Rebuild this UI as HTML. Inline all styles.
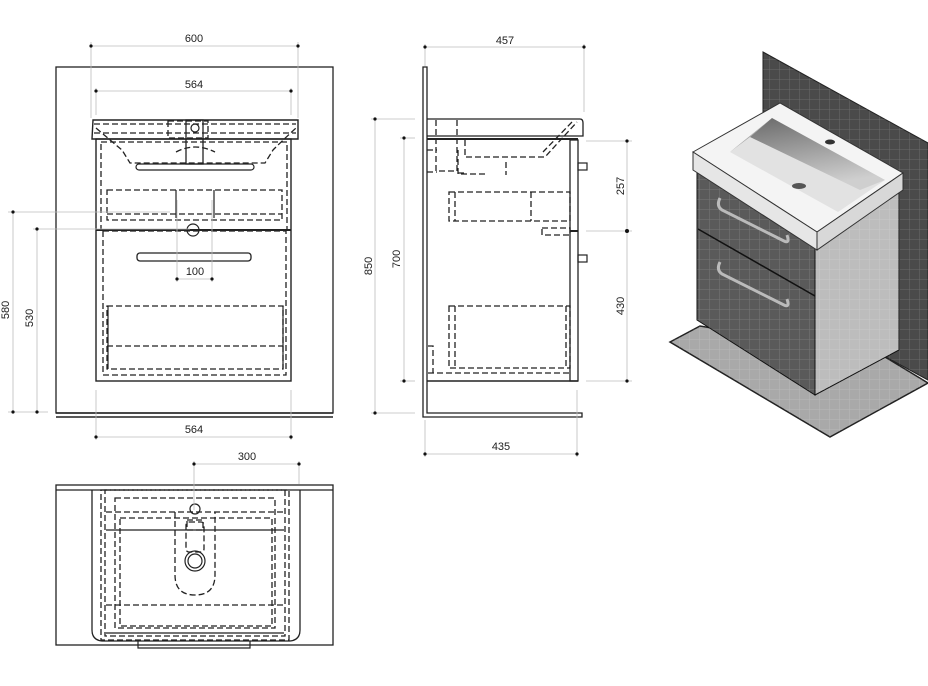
<!DOCTYPE html>
<html><head><meta charset="utf-8"><style>
html,body{margin:0;padding:0;background:#fff;}
svg{display:block;}
text{font-family:"Liberation Sans",sans-serif;font-size:11px;fill:#222;}
</style></head><body>
<svg width="928" height="686" viewBox="0 0 928 686" xmlns="http://www.w3.org/2000/svg">
<defs>
<pattern id="tile" width="10" height="10" patternUnits="userSpaceOnUse"><path d="M10 0V10M0 10H10" stroke="#ffffff" stroke-opacity="0.18" stroke-width="1" fill="none"/></pattern>
<linearGradient id="wallg" x1="0" y1="0" x2="0.3" y2="1"><stop offset="0" stop-color="#6a6a6a"/><stop offset="1" stop-color="#cfcfcf"/></linearGradient>
</defs>
<g fill="none" stroke="#222" stroke-width="1.2">
<rect x="56" y="67" width="277" height="346" stroke-width="1.3"/>
<line x1="56" y1="413" x2="333" y2="413" stroke-width="1.5"/>
<line x1="56" y1="417" x2="333" y2="417" stroke-width="1.5"/>
<path d="M93 120 L298 120 L298 139 L92 139 Z" stroke-width="1.4"/>
<g stroke-dasharray="6,3" stroke-width="1.3">
<line x1="94" y1="124" x2="296" y2="124"/>
<line x1="94" y1="133" x2="296" y2="133"/>
<rect x="168" y="121" width="40" height="17"/>
<path d="M96 128 Q110 140 122 150 L130 163 L265 163 L273 150 Q283 140 296 128"/>
<path d="M176 152 Q195 142 215 152"/>
<rect x="101" y="142" width="186" height="88"/>
<rect x="107" y="190" width="175" height="30"/>
<line x1="107" y1="214" x2="282" y2="214"/>
<rect x="103" y="231" width="183" height="144"/>
<rect x="107" y="306" width="176" height="63"/>
<line x1="107" y1="346" x2="283" y2="346"/>
</g>
<rect x="186" y="120" width="17" height="44" stroke-width="1.3"/>
<circle cx="195" cy="128" r="4"/>
<rect x="136" y="164" width="118" height="6" rx="3"/>
<line x1="176" y1="190" x2="176" y2="218"/>
<line x1="214" y1="190" x2="214" y2="218"/>
<circle cx="193" cy="230" r="6"/>
<rect x="96" y="139" width="195" height="242" stroke-width="1.4"/>
<line x1="96" y1="230" x2="291" y2="230" stroke-width="2"/>
<rect x="137" y="253" width="114" height="8" rx="3" stroke-width="1.3"/>
<line x1="108" y1="306" x2="108" y2="369"/><line x1="283" y1="306" x2="283" y2="369"/>
</g>
<g stroke="#bbb" stroke-width="0.8" fill="none">
<line x1="91" y1="46" x2="298" y2="46"/><line x1="91" y1="42" x2="91" y2="118"/><line x1="298" y1="42" x2="298" y2="118"/>
<line x1="96" y1="91" x2="291" y2="91"/><line x1="96" y1="88" x2="96" y2="115"/><line x1="291" y1="88" x2="291" y2="115"/>
<line x1="96" y1="437" x2="291" y2="437"/><line x1="96" y1="390" x2="96" y2="440"/><line x1="291" y1="390" x2="291" y2="440"/>
<line x1="177" y1="279" x2="212" y2="279"/><line x1="177" y1="200" x2="177" y2="282"/><line x1="212" y1="200" x2="212" y2="282"/>
<line x1="13" y1="212" x2="13" y2="412"/><line x1="8" y1="212" x2="170" y2="212"/>
<line x1="37" y1="229" x2="37" y2="412"/><line x1="33" y1="229" x2="190" y2="229"/>
<line x1="8" y1="412" x2="48" y2="412"/>
</g>
<g fill="#111">
<circle cx="91" cy="46" r="1.6"/><circle cx="298" cy="46" r="1.6"/>
<circle cx="96" cy="91" r="1.6"/><circle cx="291" cy="91" r="1.6"/>
<circle cx="96" cy="437" r="1.6"/><circle cx="291" cy="437" r="1.6"/>
<circle cx="177" cy="279" r="1.6"/><circle cx="212" cy="279" r="1.6"/>
<circle cx="13" cy="212" r="1.6"/><circle cx="13" cy="412" r="1.6"/>
<circle cx="37" cy="229" r="1.6"/><circle cx="37" cy="412" r="1.6"/>
</g>
<text x="194" y="42" text-anchor="middle">600</text>
<text x="194" y="88" text-anchor="middle">564</text>
<text x="194" y="433" text-anchor="middle">564</text>
<text x="195" y="275" text-anchor="middle">100</text>
<text transform="translate(9,310) rotate(-90)" text-anchor="middle">580</text>
<text transform="translate(33,318) rotate(-90)" text-anchor="middle">530</text>

<g fill="none" stroke="#222" stroke-width="1.2">
<path d="M423 67 L427 67 L427 413 L582 413 L582 417 L423 417 Z" stroke-width="1.3"/>
<path d="M427 119 L580 119 Q583 119 583 123 L583 136 L427 136" stroke-width="1.3"/>
<line x1="427" y1="139" x2="578" y2="139" stroke-width="2"/>
<rect x="570" y="140" width="8" height="241" stroke-width="1.3"/>
<line x1="427" y1="381" x2="578" y2="381" stroke-width="1.4"/>
<line x1="570" y1="231" x2="578" y2="231" stroke-width="2"/>
<rect x="578" y="163" width="9" height="7"/><rect x="578" y="255" width="9" height="7"/>
<g stroke-dasharray="6,3" stroke-width="1.3">
<path d="M436 120 L436 171 L456 171"/><path d="M457 120 L457 173 L465 173"/>
<path d="M465 140 L465 157 L545 157 L577 122"/><path d="M572 122 L543 152"/>
<path d="M458 150 L458 174 L486 174"/><path d="M506 162 L506 175"/>
<rect x="449" y="192" width="121" height="29"/><line x1="455" y1="192" x2="455" y2="221"/><line x1="531" y1="192" x2="531" y2="221"/>
<rect x="542" y="228" width="28" height="7"/>
<rect x="449" y="306" width="121" height="62"/><line x1="455" y1="306" x2="455" y2="368"/><line x1="566" y1="306" x2="566" y2="368"/>
<line x1="428" y1="373" x2="570" y2="373"/><path d="M428 346 L433 346 L433 373"/>
<path d="M427 150 L437 150"/><path d="M427 172 L437 172"/>
</g>
</g>
<g stroke="#bbb" stroke-width="0.8" fill="none">
<line x1="425" y1="47" x2="584" y2="47"/><line x1="425" y1="44" x2="425" y2="66"/><line x1="584" y1="44" x2="584" y2="112"/>
<line x1="375" y1="119" x2="375" y2="413"/><line x1="371" y1="119" x2="415" y2="119"/><line x1="371" y1="413" x2="415" y2="413"/>
<line x1="404" y1="138" x2="404" y2="381"/><line x1="400" y1="138" x2="415" y2="138"/><line x1="400" y1="381" x2="415" y2="381"/>
<line x1="627" y1="141" x2="627" y2="381"/><line x1="586" y1="141" x2="632" y2="141"/><line x1="586" y1="231" x2="632" y2="231"/><line x1="586" y1="381" x2="632" y2="381"/>
<line x1="425" y1="454" x2="577" y2="454"/><line x1="425" y1="420" x2="425" y2="457"/><line x1="577" y1="390" x2="577" y2="457"/>
</g>
<g fill="#111">
<circle cx="425" cy="47" r="1.6"/><circle cx="584" cy="47" r="1.6"/>
<circle cx="375" cy="119" r="1.6"/><circle cx="375" cy="413" r="1.6"/>
<circle cx="404" cy="138" r="1.6"/><circle cx="404" cy="381" r="1.6"/>
<circle cx="627" cy="141" r="1.6"/><circle cx="627" cy="231" r="2"/><circle cx="627" cy="381" r="1.6"/>
<circle cx="425" cy="454" r="1.6"/><circle cx="577" cy="454" r="1.6"/>
</g>
<text x="505" y="44" text-anchor="middle">457</text>
<text x="501" y="450" text-anchor="middle">435</text>
<text transform="translate(372,266) rotate(-90)" text-anchor="middle">850</text>
<text transform="translate(400,259) rotate(-90)" text-anchor="middle">700</text>
<text transform="translate(624,186) rotate(-90)" text-anchor="middle">257</text>
<text transform="translate(624,306) rotate(-90)" text-anchor="middle">430</text>

<g fill="none" stroke="#222" stroke-width="1.2">
<rect x="56" y="485" width="277" height="160" stroke-width="1.3"/>
<line x1="56" y1="490" x2="333" y2="490" stroke-width="1.3"/>
<path d="M92 490 L92 630 Q92 640 102 641 L290 641 Q300 640 300 630 L300 490" stroke-width="1.3"/>
<path d="M138 641 L138 648 L250 648 L250 641"/>
<g stroke-dasharray="6,3" stroke-width="1.3">
<rect x="101" y="490" width="188" height="150"/>
<rect x="105" y="490" width="180" height="146"/>
<rect x="115" y="498" width="160" height="130"/>
<rect x="120" y="518" width="152" height="108"/>
<line x1="106" y1="512" x2="284" y2="512"/>
<line x1="106" y1="605" x2="284" y2="605"/>
<path d="M175 512 L175 575 Q175 595 195 595 Q215 595 215 575 L215 512"/>
<rect x="187" y="520" width="16" height="10"/>
<rect x="186" y="522" width="18" height="30" rx="3"/>
</g>
<line x1="106" y1="530" x2="284" y2="530"/>
<line x1="106" y1="633" x2="284" y2="633"/>
<circle cx="195" cy="509" r="5"/>
<circle cx="195" cy="561" r="10"/><circle cx="195" cy="561" r="7"/>
</g>
<g stroke="#bbb" stroke-width="0.8"><line x1="194" y1="464" x2="299" y2="464"/><line x1="194" y1="461" x2="194" y2="510"/><line x1="299" y1="461" x2="299" y2="484"/></g>
<circle cx="194" cy="464" r="1.6" fill="#111"/><circle cx="299" cy="464" r="1.6" fill="#111"/>
<text x="247" y="460" text-anchor="middle">300</text>

<!-- ISO -->
<polygon points="763,52 928,143 928,380 763,290" fill="#4a4a4a" stroke="#222"/>
<polygon points="763,52 928,143 928,380 763,290" fill="url(#tile)"/>
<polygon points="670,342 700,326 885,357 928,383 830,437" fill="#a9a9a9" stroke="#222" stroke-width="1.5"/>
<polygon points="670,342 700,326 885,357 928,383 830,437" fill="url(#tile)"/>
<polygon points="697,170 815,242 815,395 697,320" fill="#5a5a5a" stroke="#111"/>
<polygon points="697,170 815,242 815,395 697,320" fill="url(#tile)"/>
<polygon points="815,242 899,188 899,350 815,395" fill="#bdbdbd" stroke="#111"/>
<polygon points="815,242 899,188 899,350 815,395" fill="url(#tile)"/>
<line x1="698" y1="229" x2="815" y2="296" stroke="#111" stroke-width="1.5"/>
<path d="M720 198 Q716 206 722 210 L784 241 Q790 244 787 235" fill="none" stroke="#bbb" stroke-width="3"/>
<path d="M720 262 Q716 270 722 274 L784 305 Q790 308 787 299" fill="none" stroke="#bbb" stroke-width="3"/>
<polygon points="693,152 780,103 903,173 817,232" fill="#f4f4f4" stroke="#333"/>
<polygon points="693,152 817,232 817,250 693,170" fill="#e6e6e6" stroke="#333"/>
<polygon points="817,232 903,173 903,190 817,250" fill="#d8d8d8" stroke="#333"/>
<polygon points="730,152 772,118 885,180 838,212" fill="#e2e2e2"/>
<polygon points="772,118 885,180 860,190 750,137" fill="url(#wallg)"/>
<polygon points="730,152 772,118 750,137" fill="#aaa"/>
<ellipse cx="799" cy="186" rx="7" ry="3" fill="#555"/>
<ellipse cx="830" cy="142" rx="5" ry="2.5" fill="#333"/>
</svg>
</body></html>
